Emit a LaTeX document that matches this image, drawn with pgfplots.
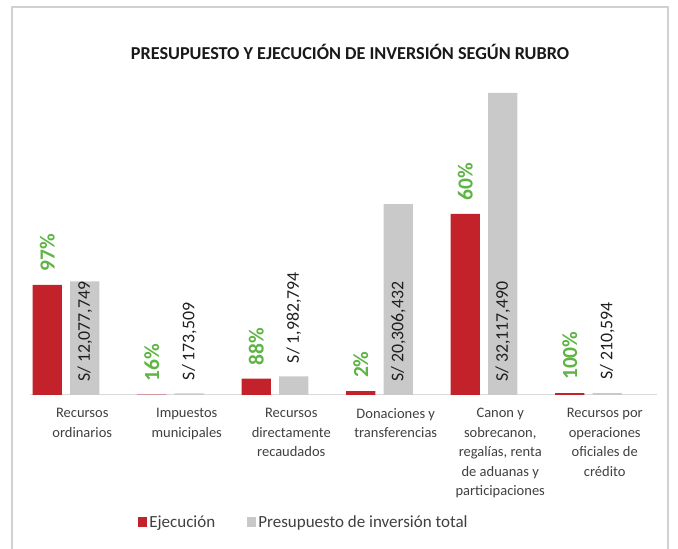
\documentclass[border=0pt]{standalone}
\usepackage{pgfplots}
\pgfplotsset{compat=1.18}
\usepackage{fontspec}
\setmainfont{Carlito}
\definecolor{ejec}{HTML}{C4222B}
\definecolor{presu}{HTML}{C9C9C9}
\definecolor{pct}{HTML}{5FB446}
\definecolor{txt}{HTML}{404040}

\begin{document}
\begin{tikzpicture}[x=1pt,y=1pt]
\useasboundingbox (0,0) rectangle (678,549);
% outer frame (bottom edge runs off the page)
\draw[color=black!18, line width=1.2pt] (12,542) rectangle (668,-10);
\node[font=\fontsize{18.2}{21}\selectfont\bfseries, text=black!90] at (350,497)
  {PRESUPUESTO Y EJECUCIÓN DE INVERSIÓN SEGÚN RUBRO};

\begin{axis}[
  at={(30pt,154pt)}, anchor=south west,
  scale only axis,
  width=627pt, height=310.3pt,
  xmin=-0.5, xmax=5.5,
  ymin=0, ymax=33000000,
  hide y axis,
  axis x line*=bottom,
  x axis line style={draw=black!15, line width=1pt, -},
  xtick={0,1,2,3,4,5},
  xtick style={draw=none},
  xticklabels={{Recursos\\ordinarios},{Impuestos\\municipales},{Recursos\\directamente\\recaudados},{Donaciones y\\transferencias},{Canon y\\sobrecanon,\\regalías, renta\\de aduanas y\\participaciones},{Recursos por\\operaciones\\oficiales de\\crédito}},
  xticklabel style={align=center, anchor=north, inner sep=0pt, yshift=-13pt,
    font=\fontsize{14.5}{19.5}\selectfont, text=txt},
  legend columns=2,
  legend style={at={(0.437,-0.41)}, anchor=center, draw=none, fill=none,
    font=\fontsize{17}{20}\selectfont, text=txt, inner sep=0pt,
    /tikz/every even column/.append style={column sep=30pt}},
  legend image code/.code={\fill[#1] (0pt,-5pt) rectangle (9pt,5pt);},
]
\addplot[ybar, bar width=0.28, bar shift=-0.335, fill=ejec, draw=none]
  coordinates {
  (0,11715417)
  (1,27761)
  (2,1744859)
  (3,406129)
  (4,19270494)
  (5,210594)
};
\addlegendentry{Ejecución}
\addplot[ybar, bar width=0.28, bar shift=0.025, fill=presu, draw=none]
  coordinates {
  (0,12077749)
  (1,173509)
  (2,1982794)
  (3,20306432)
  (4,32117490)
  (5,210594)
};
\addlegendentry{Presupuesto de inversión total}
% execution percentages above the red bars
\addplot[draw=none, mark=none, forget plot,
  point meta=explicit symbolic, nodes near coords,
  every node near coord/.append style={rotate=90, anchor=west, inner xsep=13pt, inner ysep=0pt,
    font=\fontsize{21.5}{24}\selectfont\bfseries, text=pct}]
  coordinates {
  (-0.335,11715417) [97\%]
  (0.665,27761) [16\%]
  (1.665,1744859) [88\%]
  (2.665,406129) [2\%]
  (3.665,19270494) [60\%]
  (4.665,210594) [100\%]
};
% value labels: inside base for tall bars, outside end for short ones
\addplot[draw=none, mark=none, forget plot,
  point meta=explicit symbolic, nodes near coords,
  every node near coord/.append style={rotate=90, anchor=west, inner xsep=13pt, inner ysep=0pt,
    font=\fontsize{17.8}{20}\selectfont, text=black!88}]
  coordinates {
  (0.025,0) [S/ 12,077,749]
  (1.025,173509) [S/ 173,509]
  (2.025,1982794) [S/ 1,982,794]
  (3.025,0) [S/ 20,306,432]
  (4.025,0) [S/ 32,117,490]
  (5.025,210594) [S/ 210,594]
};
\end{axis}
\end{tikzpicture}
\end{document}
